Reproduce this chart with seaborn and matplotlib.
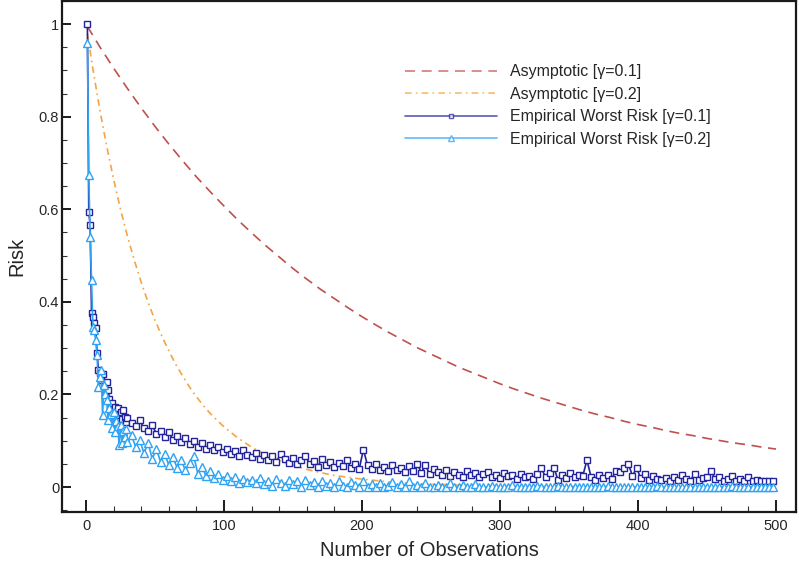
import numpy as np
import pandas as pd
import matplotlib
matplotlib.use("Agg")
import matplotlib.pyplot as plt
import seaborn as sns
from matplotlib.ticker import MultipleLocator, FormatStrFormatter

# ---------------- data ----------------
asym_n_01 = [1, 10, 20, 30, 40, 50, 60, 70, 80, 90, 100, 110, 120, 130, 140, 150, 160, 170,
             180, 190, 200, 210, 220, 230, 240, 250, 260, 270, 280, 290, 300, 310, 320, 330,
             340, 350, 360, 370, 380, 390, 400, 410, 420, 430, 440, 450, 460, 470, 480, 490, 500]
asym_r_01 = [0.995, 0.951, 0.905, 0.861, 0.819, 0.779, 0.741, 0.705, 0.670, 0.638, 0.607,
             0.577, 0.549, 0.522, 0.497, 0.472, 0.449, 0.427, 0.407, 0.387, 0.368, 0.350,
             0.333, 0.317, 0.301, 0.287, 0.273, 0.259, 0.247, 0.235, 0.223, 0.212, 0.202,
             0.192, 0.183, 0.174, 0.165, 0.157, 0.150, 0.142, 0.135, 0.129, 0.122, 0.116,
             0.111, 0.105, 0.100, 0.095, 0.091, 0.086, 0.082]

asym_n_02 = [1, 5, 10, 15, 20, 25, 30, 35, 40, 45, 50, 55, 60, 65, 70, 75, 80, 85, 90, 95,
             100, 110, 120, 130, 140, 150, 160, 170, 180, 190, 200, 210, 220, 230, 240, 250,
             260, 280, 300, 350, 400, 450, 500]
asym_r_02 = [0.980, 0.903, 0.815, 0.736, 0.665, 0.600, 0.542, 0.490, 0.442, 0.399, 0.360,
             0.326, 0.294, 0.265, 0.240, 0.216, 0.195, 0.176, 0.159, 0.144, 0.130, 0.106,
             0.086, 0.070, 0.057, 0.047, 0.038, 0.031, 0.025, 0.021, 0.017, 0.014, 0.011,
             0.009, 0.007, 0.006, 0.005, 0.003, 0.002, 0.001, 0.0003, 0.0001, 0.0]

# empirical worst risk: n = 1..30 (every observation), then every 3rd from 33 to 498
emp_head_01 = [1.000, 0.595, 0.565, 0.375, 0.368, 0.355, 0.343, 0.290, 0.253, 0.246,
               0.232, 0.245, 0.218, 0.205, 0.227, 0.209, 0.190, 0.175, 0.182, 0.168,
               0.173, 0.160, 0.171, 0.155, 0.163, 0.148, 0.166, 0.152, 0.141, 0.149]
emp_tail_01 = [
    0.138, 0.131, 0.144, 0.127, 0.122, 0.133, 0.115, 0.121, 0.108, 0.118,   # 33-60
    0.102, 0.111, 0.097, 0.106, 0.093, 0.100, 0.087, 0.095, 0.083, 0.091,   # 63-90
    0.079, 0.086, 0.075, 0.083, 0.072, 0.078, 0.068, 0.081, 0.070, 0.064,   # 93-120
    0.073, 0.061, 0.069, 0.058, 0.066, 0.055, 0.071, 0.060, 0.052, 0.063,   # 123-150
    0.049, 0.058, 0.067, 0.050, 0.057, 0.044, 0.061, 0.048, 0.055, 0.043,   # 153-180
    0.052, 0.046, 0.058, 0.041, 0.049, 0.039, 0.081, 0.047, 0.038, 0.050,   # 183-210
    0.036, 0.044, 0.034, 0.048, 0.037, 0.042, 0.032, 0.045, 0.035, 0.050,   # 213-240
    0.031, 0.047, 0.028, 0.039, 0.033, 0.027, 0.036, 0.024, 0.032, 0.027,   # 243-270
    0.021, 0.034, 0.025, 0.030, 0.021, 0.028, 0.033, 0.022, 0.027, 0.019,   # 273-300
    0.031, 0.023, 0.026, 0.018, 0.029, 0.021, 0.024, 0.017, 0.028, 0.040,   # 303-330
    0.022, 0.030, 0.042, 0.016, 0.025, 0.019, 0.030, 0.021, 0.026, 0.024,   # 333-360
    0.058, 0.022, 0.016, 0.025, 0.019, 0.027, 0.018, 0.035, 0.033, 0.040,   # 363-390
    0.050, 0.024, 0.041, 0.019, 0.028, 0.016, 0.024, 0.018, 0.015, 0.020,   # 393-420
    0.014, 0.021, 0.016, 0.026, 0.018, 0.014, 0.029, 0.016, 0.019, 0.022,   # 423-450
    0.034, 0.017, 0.021, 0.014, 0.018, 0.024, 0.013, 0.017, 0.014, 0.021,   # 453-480
    0.013, 0.015, 0.012, 0.014, 0.012, 0.013]                               # 483-498

emp_head_02 = [0.960, 0.675, 0.540, 0.447, 0.346, 0.339, 0.317, 0.285, 0.216, 0.238,
               0.252, 0.155, 0.220, 0.200, 0.187, 0.144, 0.170, 0.158, 0.128, 0.162,
               0.118, 0.142, 0.131, 0.090, 0.135, 0.094, 0.121, 0.108, 0.125, 0.098]
emp_tail_02 = [
    0.112, 0.086, 0.101, 0.073, 0.095, 0.061, 0.082, 0.055, 0.071, 0.048,   # 33-60
    0.064, 0.042, 0.058, 0.036, 0.052, 0.068, 0.029, 0.044, 0.024, 0.035,   # 63-90
    0.019, 0.028, 0.015, 0.024, 0.012, 0.021, 0.009, 0.018, 0.011, 0.016,   # 93-120
    0.008, 0.019, 0.006, 0.014, 0.003, 0.017, 0.009, 0.002, 0.015, 0.007,   # 123-150
    0.012, 0.001, 0.016, 0.004, 0.011, 0.000, 0.014, 0.003, 0.009, 0.000,   # 153-180
    0.013, 0.002, 0.000, 0.010, 0.004, 0.000, 0.012, 0.000, 0.007, 0.000,   # 183-210
    0.009, 0.000, 0.003, 0.011, 0.000, 0.006, 0.000, 0.013, 0.000, 0.004,   # 213-240
    0.000, 0.008, 0.000, 0.000, 0.005, 0.000, 0.000, 0.009, 0.000, 0.000,   # 243-270
    0.004, 0.000, 0.000, 0.007, 0.000, 0.000, 0.000, 0.003, 0.000, 0.000,   # 273-300
    0.000, 0.000, 0.004, 0.000, 0.000, 0.000, 0.000, 0.000, 0.002, 0.000,   # 303-330
    0.000, 0.000, 0.000, 0.003, 0.000, 0.000, 0.000, 0.000, 0.000, 0.000,   # 333-360
    0.000, 0.000, 0.000, 0.000, 0.000, 0.002, 0.000, 0.000, 0.000, 0.000,   # 363-390
    0.000, 0.000, 0.000, 0.000, 0.000, 0.000, 0.000, 0.003, 0.000, 0.000,   # 393-420
    0.000, 0.000, 0.000, 0.000, 0.000, 0.000, 0.000, 0.000, 0.000, 0.000,   # 423-450
    0.000, 0.000, 0.000, 0.000, 0.000, 0.002, 0.000, 0.000, 0.000, 0.000,   # 453-480
    0.000, 0.000, 0.000, 0.000, 0.000, 0.000]                               # 483-498

emp_n = list(range(1, 31)) + list(range(33, 499, 3))
emp_r_01 = emp_head_01 + emp_tail_01
emp_r_02 = emp_head_02 + emp_tail_02

labels = ["Asymptotic [γ=0.1]", "Asymptotic [γ=0.2]",
          "Empirical Worst Risk [γ=0.1]", "Empirical Worst Risk [γ=0.2]"]
x_ticks = [0, 100, 200, 300, 400, 500]
y_ticks = [0, 0.2, 0.4, 0.6, 0.8, 1.0]

# ---------------- style ----------------
sns.set_theme(style="white")
plt.rcParams["font.family"] = ["Liberation Sans", "DejaVu Sans"]

fig = plt.figure(figsize=(7.99, 5.65), dpi=100)
ax = fig.add_axes([62 / 799, 1 - 512 / 565, (796 - 62) / 799, (512 - 1) / 565])

c_red = "#c0504d"
c_orange = "#f5a443"
c_navy = "#23239b"
c_light = "#2fa3f3"

sns.lineplot(x=asym_n_01, y=asym_r_01, ax=ax, color=c_red, lw=1.2,
             dashes=False, linestyle=(0, (6, 4)), label=labels[0], errorbar=None)
sns.lineplot(x=asym_n_02, y=asym_r_02, ax=ax, color=c_orange, lw=1.2,
             dashes=False, linestyle=(0, (4, 2.5, 1, 2.5)), label=labels[1], errorbar=None)
sns.lineplot(x=emp_n, y=emp_r_01, ax=ax, color=c_navy, lw=1.2, marker="s",
             markersize=4.8, markerfacecolor="white", markeredgecolor=c_navy,
             markeredgewidth=1.0, label=labels[2], errorbar=None)
sns.lineplot(x=emp_n, y=emp_r_02, ax=ax, color=c_light, lw=1.2, marker="^",
             markersize=5.2, markerfacecolor="white", markeredgecolor=c_light,
             markeredgewidth=1.0, label=labels[3], errorbar=None)

ax.set_xlim(-17.4, 514.5)
ax.set_ylim(-0.054, 1.05)
ax.set_xticks(x_ticks)
ax.set_yticks(y_ticks)
ax.xaxis.set_minor_locator(MultipleLocator(20))
ax.yaxis.set_minor_locator(MultipleLocator(0.05))
ax.yaxis.set_major_formatter(FormatStrFormatter("%g"))

for s in ax.spines.values():
    s.set_visible(True)
    s.set_color("#1a1a1a")
    s.set_linewidth(1.6)

ax.tick_params(axis="x", which="major", direction="in", length=8.5, width=1.4,
               color="#1a1a1a", labelsize=10.5, pad=5, bottom=True, top=False)
ax.tick_params(axis="x", which="minor", direction="in", length=4.2, width=0.8,
               color="#333333", bottom=True, top=False)
ax.tick_params(axis="y", which="major", direction="in", length=6.5, width=1.4,
               color="#1a1a1a", labelsize=10.5, pad=2, left=True, right=False)
ax.tick_params(axis="y", which="minor", direction="in", length=3.3, width=0.8,
               color="#333333", left=True, right=False)
ax.grid(False)

ax.set_xlabel("Number of Observations", fontsize=14.5, labelpad=6)
ax.set_ylabel("Risk", fontsize=14.5, labelpad=9)

leg = ax.legend(loc="upper left", bbox_to_anchor=(0.467, 0.876), frameon=False,
                fontsize=11.5, handlelength=5.8, handletextpad=0.8, labelspacing=0.47,
                borderpad=0, borderaxespad=0, numpoints=1, markerscale=0.75)
for h in leg.legend_handles:
    h.set_alpha(0.75)

fig.savefig("out.png", dpi=100)
